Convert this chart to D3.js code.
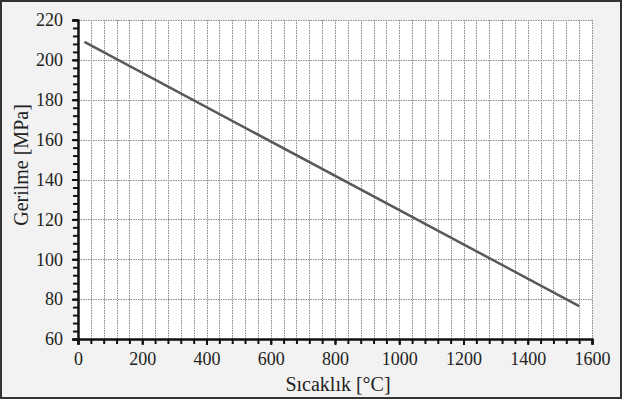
<!DOCTYPE html>
<html>
<head>
<meta charset="utf-8">
<script src="https://cdn.jsdelivr.net/npm/d3@7"></script>
<style>
  html, body { margin: 0; padding: 0; background: #fff; }
  svg { display: block; }
</style>
</head>
<body>
<svg id="chart" width="622" height="399" font-family="Liberation Serif"></svg>
<script>
// Temperature (°C) and stress (MPa) along the line
const temperature = [20, 1560];
const stress = [209, 76.5];

const xDomain = [0, 1600];
const yDomain = [60, 220];
const xMajorTicks = [0, 200, 400, 600, 800, 1000, 1200, 1400, 1600];
const yMajorTicks = [60, 80, 100, 120, 140, 160, 180, 200, 220];
const xMinorStep = 40;
const yMinorStep = 4;

const xTitle = "Sıcaklık [°C]";
const yTitle = "Gerilme [MPa]";

const W = 622, H = 399;
const m = { left: 78, right: 30, top: 20, bottom: 60 };
const SERIF = "Liberation Serif";

const svg = d3.select("#chart");

// panel background and frame
svg.append("rect").attr("x", 1).attr("y", 1).attr("width", W - 2).attr("height", H - 2)
  .attr("fill", "#f2f2f2").attr("stroke", "#333").attr("stroke-width", 2);

const x = d3.scaleLinear().domain(xDomain).range([m.left, W - m.right]);
const y = d3.scaleLinear().domain(yDomain).range([H - m.bottom, m.top]);

svg.append("rect")
  .attr("x", x(xDomain[0])).attr("y", y(yDomain[1]))
  .attr("width", x(xDomain[1]) - x(xDomain[0]))
  .attr("height", y(yDomain[0]) - y(yDomain[1]))
  .attr("fill", "#fff");

const xMinor = d3.range(xDomain[0], xDomain[1] + 0.001, xMinorStep);
const yMinor = d3.range(yDomain[0], yDomain[1] + 0.001, yMinorStep);

// dotted grid: vertical at every minor step, horizontal at major ticks
const grid = svg.append("g").attr("stroke", "#8a8a8a").attr("stroke-width", 1)
  .attr("stroke-dasharray", "1.5,1");
grid.selectAll("line.v").data(xMinor.filter(d => d > xDomain[0])).join("line")
  .attr("class", "v")
  .attr("x1", d => Math.round(x(d)) + 0.5).attr("x2", d => Math.round(x(d)) + 0.5)
  .attr("y1", y(yDomain[0])).attr("y2", y(yDomain[1]));
grid.selectAll("line.h").data(yMajorTicks.filter(d => d > yDomain[0])).join("line")
  .attr("class", "h")
  .attr("y1", d => Math.round(y(d)) + 0.5).attr("y2", d => Math.round(y(d)) + 0.5)
  .attr("x1", x(xDomain[0])).attr("x2", x(xDomain[1]));

// data line
svg.append("path")
  .datum(temperature.map((t, i) => [t, stress[i]]))
  .attr("fill", "none").attr("stroke", "#595959").attr("stroke-width", 2.5)
  .attr("d", d3.line().x(d => x(d[0])).y(d => y(d[1])));

// axes: minor ticks first, then labelled major ticks
const xAxisMinor = d3.axisBottom(x).tickValues(xMinor).tickSize(5).tickFormat(() => "");
const xAxis = d3.axisBottom(x).tickValues(xMajorTicks).tickSize(6).tickPadding(7).tickFormat(d3.format("d"));
const yAxisMinor = d3.axisLeft(y).tickValues(yMinor).tickSize(5).tickFormat(() => "");
const yAxis = d3.axisLeft(y).tickValues(yMajorTicks).tickSize(6).tickPadding(9).tickFormat(d3.format("d"));

function styleAxis(g) {
  g.attr("font-family", SERIF).attr("font-size", 18);
  g.select(".domain").attr("stroke", "#111").attr("stroke-width", 2);
  g.selectAll(".tick line").attr("stroke", "#111").attr("stroke-width", 2);
  g.selectAll(".tick text").attr("fill", "#222");
}

svg.append("g").attr("transform", `translate(0,${y(yDomain[0])})`).call(xAxisMinor).call(styleAxis);
svg.append("g").attr("transform", `translate(0,${y(yDomain[0])})`).call(xAxis).call(styleAxis);
svg.append("g").attr("transform", `translate(${x(xDomain[0])},0)`).call(yAxisMinor).call(styleAxis);
svg.append("g").attr("transform", `translate(${x(xDomain[0])},0)`).call(yAxis).call(styleAxis);

// axis titles
svg.append("text")
  .attr("x", 338).attr("y", 391)
  .attr("text-anchor", "middle").attr("fill", "#222")
  .attr("font-family", SERIF).attr("font-size", 20).text(xTitle);
svg.append("text")
  .attr("transform", `translate(28,165) rotate(-90)`)
  .attr("text-anchor", "middle").attr("fill", "#222")
  .attr("font-family", SERIF).attr("font-size", 20).text(yTitle);
</script>
</body>
</html>
